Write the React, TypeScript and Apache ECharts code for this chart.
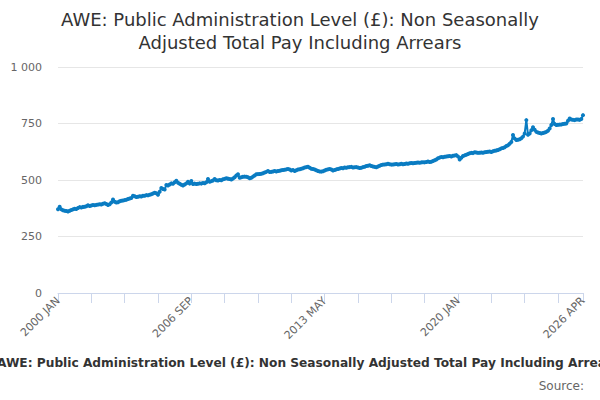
import React, { useEffect, useRef } from "react";
import * as echarts from "echarts";

const years = [2000,2001,2002,2003,2004,2005,2006,2007,2008,2009,2010,2011,2012,2013,2014,2015,2016,2017,2018,2019,2020,2021,2022,2023,2024,2025,2026];
const months = ["JAN","FEB","MAR","APR","MAY","JUN","JUL","AUG","SEP","OCT","NOV","DEC"];
const lastMonthCount = 4;

const values2000 = [371,382,370,366,364,363,361,364,367,370,373,372];
const values2001 = [376,380,378,381,382,384,388,385,387,389,388,390];
const values2002 = [391,393,392,395,397,394,389,393,400,414,404,400];
const values2003 = [402,406,408,409,411,413,416,418,420,430,428,425];
const values2004 = [426,428,427,430,430,433,432,435,437,440,444,441];
const values2005 = [435,448,465,460,458,478,476,480,485,483,490,497];
const values2006 = [488,483,479,476,480,485,492,484,496,482,484,482];
const values2007 = [483,485,484,487,486,490,504,492,495,498,504,499];
const values2008 = [498,500,499,503,505,508,506,504,502,507,512,520];
const values2009 = [525,510,512,514,515,514,512,508,510,515,520,525];
const values2010 = [526,527,528,530,533,536,540,535,536,538,540,538];
const values2011 = [540,541,543,544,545,547,549,546,542,544,540,543];
const values2012 = [546,548,550,552,555,557,559,554,550,549,546,543];
const values2013 = [540,538,537,539,542,545,547,549,546,542,544,547];
const values2014 = [549,551,553,552,555,554,556,557,558,555,556,557];
const values2015 = [555,553,554,557,559,562,563,565,562,560,558,556];
const values2016 = [560,563,566,568,569,570,572,570,568,569,570,571];
const values2017 = [569,570,572,570,571,573,572,574,575,574,575,576];
const values2018 = [577,576,578,579,578,580,582,580,581,584,587,591];
const values2019 = [596,599,602,601,603,604,605,606,604,607,608,610];
const values2020 = [604,591,598,606,609,612,615,618,620,619,623,622];
const values2021 = [620,621,622,621,623,624,625,626,624,627,629,631];
const values2022 = [633,636,640,642,645,650,654,660,668,699,684,677];
const values2023 = [678,680,685,692,706,765,700,706,720,733,722,713];
const values2024 = [710,708,706,708,710,713,718,728,743,770,748,743];
const values2025 = [744,745,746,748,749,750,762,772,768,766,765,768];
const values2026 = [768,766,770,787];

const seriesValues = [
  ...values2000, ...values2001, ...values2002, ...values2003, ...values2004,
  ...values2005, ...values2006, ...values2007, ...values2008, ...values2009,
  ...values2010, ...values2011, ...values2012, ...values2013, ...values2014,
  ...values2015, ...values2016, ...values2017, ...values2018, ...values2019,
  ...values2020, ...values2021, ...values2022, ...values2023, ...values2024,
  ...values2025, ...values2026,
];

const categories: string[] = [];
years.forEach((y, yi) => {
  const n = yi === years.length - 1 ? lastMonthCount : 12;
  for (let m = 0; m < n; m++) categories.push(`${y} ${months[m]}`);
});

const titleText = "AWE: Public Administration Level (£): Non Seasonally\nAdjusted Total Pay Including Arrears";
const footerText = "AWE: Public Administration Level (£): Non Seasonally Adjusted Total Pay Including Arrears";
const sourceText = "Source:";

const FONT = "'DejaVu Sans', Verdana, sans-serif";

export default function App() {
  const ref = useRef<HTMLDivElement>(null);
  useEffect(() => {
    document.body.style.margin = "0";
    if (!ref.current) return;
    const chart = echarts.init(ref.current, null, { renderer: "svg" });
    const last = categories.length - 1;
    chart.setOption({
      animation: false,
      backgroundColor: "#ffffff",
      title: [
        {
          text: titleText,
          left: "center",
          top: 3,
          textStyle: { fontFamily: FONT, fontSize: 18, fontWeight: "normal", color: "#333333", lineHeight: 23 },
        },
        {
          text: footerText,
          left: -8,
          top: 352,
          textStyle: { fontFamily: FONT, fontSize: 12.2, fontWeight: "bold", color: "#333333" },
        },
        {
          text: sourceText,
          right: 11,
          top: 375,
          textStyle: { fontFamily: FONT, fontSize: 12, fontWeight: "normal", color: "#666666" },
        },
      ],
      grid: { left: 58, right: 17, top: 67, bottom: 107, containLabel: false },
      xAxis: {
        type: "category",
        data: categories,
        boundaryGap: false,
        axisLine: { show: true, lineStyle: { color: "#ccd6eb", width: 1 } },
        axisTick: {
          show: true,
          length: 10,
          lineStyle: { color: "#ccd6eb" },
          interval: (i: number) => i % 20 === 0 || i === last,
        },
        axisLabel: {
          rotate: 45,
          fontFamily: FONT,
          fontSize: 11,
          color: "#666666",
          margin: 6,
          interval: (i: number) => i % 80 === 0 || i === last,
        },
        splitLine: { show: false },
      },
      yAxis: {
        type: "value",
        min: 0,
        max: 1000,
        interval: 250,
        axisLine: { show: false },
        axisTick: { show: false },
        axisLabel: {
          fontFamily: FONT,
          fontSize: 11,
          color: "#666666",
          margin: 16,
          formatter: (v: number) => (v >= 1000 ? `${Math.floor(v / 1000)} ${String(v % 1000).padStart(3, "0")}` : String(v)),
        },
        splitLine: { show: true, lineStyle: { color: "#e6e6e6", width: 1 } },
      },
      series: [
        {
          type: "line",
          data: seriesValues,
          showSymbol: true,
          showAllSymbol: true,
          symbol: "circle",
          symbolSize: 4,
          lineStyle: { color: "#0a7cc2", width: 2 },
          itemStyle: { color: "#0a7cc2" },
        },
      ],
    });
    return () => chart.dispose();
  }, []);
  return <div ref={ref} style={{ width: 600, height: 400 }} />;
}
